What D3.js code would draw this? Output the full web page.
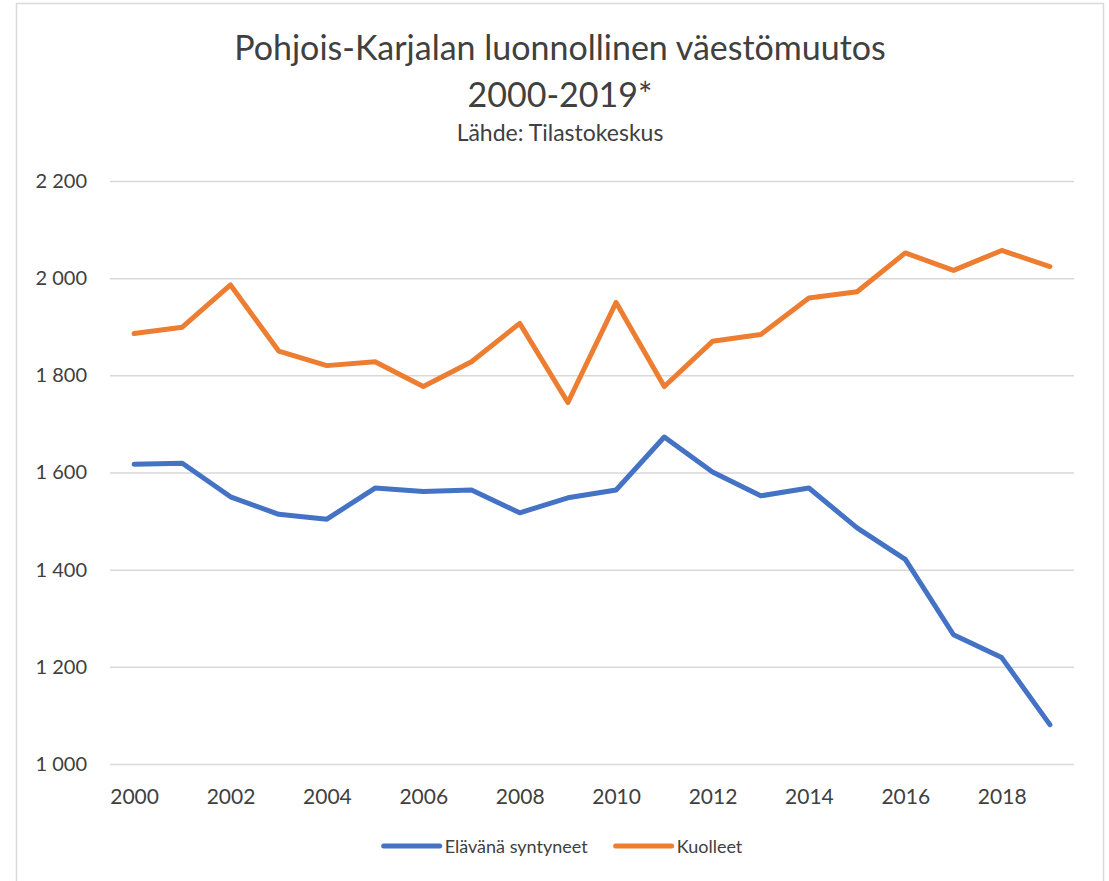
<!DOCTYPE html>
<html>
<head>
<meta charset="utf-8">
<script src="https://cdn.jsdelivr.net/npm/d3@7"></script>
<style>
  body { margin: 0; background: #fff; }
  text { font-family: Lato, "Open Sans", sans-serif; fill: #404040; }
</style>
</head>
<body>
<svg id="plot" width="1109" height="881"></svg>
<script>
// data
const years = d3.range(2000, 2020)
const syntyneet = [1617, 1619, 1550, 1514, 1504, 1568, 1561, 1564, 1517, 1548,
                   1564, 1673, 1601, 1552, 1568, 1486, 1421, 1266, 1219, 1081]
const kuolleet = [1886, 1899, 1986, 1850, 1820, 1828, 1777, 1828, 1907, 1744,
                  1950, 1777, 1870, 1884, 1959, 1972, 2052, 2016, 2057, 2024]
const seriesNames = ['Elävänä syntyneet', 'Kuolleet']
const seriesColors = ['#4472C4', '#ED7D31']
const yTicks = [1000, 1200, 1400, 1600, 1800, 2000, 2200]
const xTicks = years.filter(y => y % 2 === 0)

const fi = d3.formatLocale({decimal: ',', thousands: '\u00a0', grouping: [3], currency: ['', '€']})
const fmt = fi.format(',d')

let plot = d3.select('#plot')

// chart frame
plot.append('rect').attr('x', 16.5).attr('y', 3.5).attr('width', 1087).attr('height', 900)
  .attr('fill', 'none').attr('stroke', '#d9d9d9').attr('stroke-width', 1.5)

// titles
plot.append('text').attr('x', 560).attr('y', 60).attr('text-anchor', 'middle')
  .style('font-size', '34px').text('Pohjois-Karjalan luonnollinen väestömuutos')
plot.append('text').attr('x', 560).attr('y', 107).attr('text-anchor', 'middle')
  .style('font-size', '34px').text('2000-2019*')
plot.append('text').attr('x', 560).attr('y', 141).attr('text-anchor', 'middle')
  .style('font-size', '23px').text('Lähde: Tilastokeskus')

const x = d3.scalePoint().domain(years).range([110, 1074]).padding(0.5)
const y = d3.scaleLinear().domain([1000, 2200]).range([764, 181])

// gridlines + y labels
let yAxis = plot.append('g').attr('transform', 'translate(110,0)')
  .call(d3.axisLeft(y).tickValues(yTicks).tickFormat(fmt).tickSize(-964).tickPadding(23))
yAxis.select('.domain').remove()
yAxis.selectAll('line').attr('stroke', '#d9d9d9').attr('stroke-width', 1.5)
yAxis.selectAll('text').style('font-size', '20px').attr('fill', '#404040')

// x labels
let xAxis = plot.append('g').attr('transform', 'translate(0,764)')
  .call(d3.axisBottom(x).tickValues(xTicks).tickSize(0).tickPadding(25))
xAxis.select('.domain').remove()
xAxis.selectAll('text').style('font-size', '21px').attr('fill', '#404040')

// lines
const lineGen = d3.line().x((d, i) => x(years[i])).y(d => y(d))
;[syntyneet, kuolleet].forEach((vals, i) => {
  plot.append('path').datum(vals).attr('d', lineGen)
    .attr('fill', 'none').attr('stroke', seriesColors[i]).attr('stroke-width', 5)
    .attr('stroke-linecap', 'round').attr('stroke-linejoin', 'round')
})

// legend, centered under the plot
let legend = plot.append('g')
let cursor = 0
seriesNames.forEach((name, i) => {
  let item = legend.append('g').attr('transform', `translate(${cursor},0)`)
  item.append('line').attr('x1', 0).attr('x2', 56).attr('y1', 0).attr('y2', 0)
    .attr('stroke', seriesColors[i]).attr('stroke-width', 5).attr('stroke-linecap', 'round')
  let t = item.append('text').attr('x', 61).attr('y', 7).style('font-size', '18px').text(name)
  cursor += 61 + t.node().getComputedTextLength() + 28
})
const legendW = cursor - 28
legend.attr('transform', `translate(${563 - legendW / 2},846)`)
</script>
</body>
</html>
